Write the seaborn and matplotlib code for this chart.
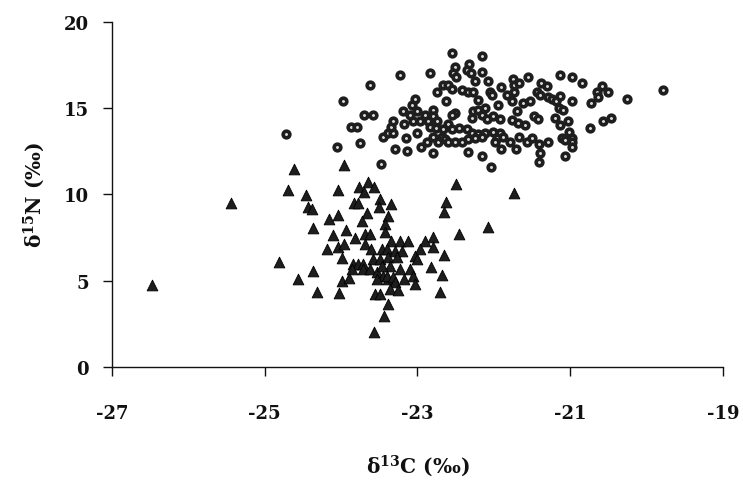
import matplotlib
matplotlib.use("Agg")
import matplotlib.pyplot as plt
import numpy as np
import pandas as pd
import seaborn as sns

# ---- data ----
tri_d13c = [-26.48, -25.44, -24.81, -24.62, -24.70, -24.57, -24.46, -24.43, -24.38, -24.37,
            -24.37, -24.32, -24.16, -24.19, -24.11, -24.04, -24.04, -24.04, -24.03, -23.99,
            -23.99, -23.96, -23.96, -23.94, -23.90, -23.83, -23.78, -23.77, -23.70, -23.65,
            -23.57, -23.49, -23.51, -23.66, -23.73, -23.82, -23.69, -23.62, -23.69, -23.61,
            -23.47, -23.85, -23.78, -23.71, -23.58, -23.49, -23.86, -23.71, -23.62, -23.53,
            -23.45, -23.53, -23.39, -23.56, -23.49, -23.39, -23.44, -23.57, -22.50, -22.62,
            -22.65, -22.08, -22.45, -23.34, -23.39, -23.43, -23.43, -22.80, -23.34, -23.23,
            -23.13, -22.90, -22.80, -23.40, -23.30, -23.20, -22.97, -23.03, -23.39, -23.27,
            -22.65, -23.01, -23.36, -23.23, -23.10, -22.82, -23.40, -23.32, -23.06, -23.17,
            -22.68, -23.30, -23.03, -23.36, -23.26, -22.71, -21.74, -23.47]
tri_d15n = [4.74, 9.48, 6.07, 11.45, 10.23, 5.09, 9.94, 9.25, 9.13, 8.03,
            5.55, 4.34, 8.55, 6.82, 7.63, 10.23, 8.79, 6.94, 4.28, 6.30,
            4.97, 11.68, 7.11, 7.92, 5.14, 9.48, 9.48, 10.40, 10.12, 10.69,
            10.40, 9.71, 9.25, 8.90, 8.44, 7.46, 7.69, 7.69, 7.11, 6.82,
            6.82, 5.95, 5.95, 5.95, 6.24, 6.24, 5.66, 5.66, 5.66, 5.49,
            5.26, 5.09, 5.09, 4.22, 4.22, 3.64, 2.95, 2.02, 10.58, 9.54,
            8.96, 8.09, 7.69, 9.42, 8.73, 8.27, 7.80, 7.51, 7.28, 7.28,
            7.28, 7.28, 6.94, 6.82, 6.71, 6.71, 6.82, 6.42, 6.36, 6.36,
            6.47, 6.24, 5.84, 5.66, 5.66, 5.78, 5.26, 5.20, 5.26, 5.09,
            5.32, 4.91, 4.80, 4.51, 4.45, 4.34, 10.06, 5.84]

circ_d13c = [-24.72, -24.05, -23.98, -23.75, -23.70, -23.62, -23.58, -23.87, -23.79, -23.48,
             -23.45, -23.39, -23.32, -23.35, -23.32, -23.30, -23.23, -23.19, -23.18, -23.15,
             -23.14, -23.10, -23.07, -23.06, -23.03, -23.01, -23.00, -22.97, -22.96, -22.90,
             -22.88, -22.86, -22.84, -22.84, -22.80, -22.79, -22.79, -22.79, -22.76, -22.75,
             -22.75, -22.73, -22.67, -22.60, -22.55, -22.68, -22.64, -22.55, -22.16, -22.51,
             -22.54, -22.50, -22.33, -22.35, -22.30, -22.16, -22.25, -22.08, -22.42, -22.34,
             -22.27, -22.05, -22.03, -21.91, -21.75, -21.73, -21.67, -21.74, -21.55, -21.38,
             -21.31, -22.63, -22.21, -21.95, -21.83, -21.76, -21.62, -21.53, -21.44, -21.40,
             -21.29, -21.70, -22.51, -22.55, -22.27, -22.21, -22.12, -22.29, -22.16, -22.09,
             -22.01, -21.92, -21.76, -21.69, -21.59, -21.48, -21.42, -21.20, -22.67, -22.60,
             -22.55, -22.45, -22.35, -22.29, -22.21, -22.12, -22.01, -21.92, -22.60, -22.51,
             -22.42, -22.34, -22.25, -22.16, -21.96, -21.88, -21.99, -21.79, -21.67, -21.71,
             -21.91, -21.57, -21.50, -21.41, -21.29, -21.40, -21.41, -22.34, -22.16, -22.04,
             -21.14, -20.97, -20.84, -20.59, -20.65, -20.63, -20.51, -20.73, -20.26, -19.79,
             -21.24, -21.18, -21.14, -21.15, -21.10, -20.98, -21.14, -21.03, -21.01, -21.11,
             -21.07, -20.97, -20.98, -20.97, -20.74, -20.57, -20.46, -21.07]
circ_d15n = [13.47, 12.72, 15.38, 12.95, 14.57, 16.36, 14.62, 13.93, 13.93, 11.73,
             13.35, 13.58, 13.58, 13.93, 14.22, 12.60, 16.94, 14.80, 14.10, 13.29,
             12.49, 14.62, 15.20, 14.22, 15.55, 14.80, 13.58, 14.22, 12.77, 14.62,
             13.01, 14.22, 17.05, 13.93, 12.37, 14.91, 14.51, 13.35, 13.87, 15.90,
             14.22, 13.06, 16.36, 16.36, 16.13, 13.35, 13.18, 18.21, 18.03, 17.40,
             17.05, 16.82, 17.57, 17.23, 17.05, 17.11, 16.59, 16.59, 16.07, 15.90,
             15.95, 15.95, 15.78, 16.24, 16.71, 16.36, 16.47, 15.95, 16.82, 16.47,
             16.30, 15.38, 15.49, 15.20, 15.78, 15.38, 15.32, 15.43, 15.90, 15.78,
             15.66, 14.80, 14.74, 14.57, 14.80, 14.91, 15.03, 14.45, 14.62, 14.39,
             14.51, 14.34, 14.28, 14.16, 13.99, 14.51, 14.34, 14.45, 13.76, 14.05,
             13.76, 13.82, 13.76, 13.58, 13.47, 13.58, 13.64, 13.58, 13.06, 13.06,
             13.01, 13.18, 13.29, 13.35, 13.29, 13.35, 13.01, 13.01, 13.35, 12.60,
             12.60, 13.06, 13.29, 12.89, 13.06, 12.37, 11.85, 12.43, 12.25, 11.56,
             16.94, 16.82, 16.47, 16.30, 15.90, 15.66, 15.95, 15.32, 15.55, 16.07,
             15.55, 15.43, 15.72, 15.03, 14.86, 15.38, 13.99, 14.22, 13.64, 13.29,
             13.12, 13.29, 13.01, 12.72, 13.87, 14.22, 14.45, 12.20]

x_ticks = [-27, -25, -23, -21, -19]
y_ticks = [0, 5, 10, 15, 20]
x_label = "δ$^{13}$C (‰)"
y_label = "δ$^{15}$N (‰)"

# ---- style ----
sns.set_theme(style="ticks")
plt.rcParams["font.family"] = ["DejaVu Serif", "Liberation Serif"]
plt.rcParams["font.weight"] = "bold"
plt.rcParams["mathtext.fontset"] = "custom"
plt.rcParams["mathtext.rm"] = "DejaVu Serif:bold"
plt.rcParams["mathtext.it"] = "DejaVu Serif:italic:bold"
plt.rcParams["mathtext.bf"] = "DejaVu Serif:bold"

tri_df = pd.DataFrame({"d13c": tri_d13c, "d15n": tri_d15n})
circ_df = pd.DataFrame({"d13c": circ_d13c, "d15n": circ_d15n})

fig = plt.figure(figsize=(7.43, 4.81), dpi=100)
fig.patch.set_facecolor("white")
ax = fig.add_axes([0.1507, 0.2349, 0.8223, 0.7179])
ax.set_facecolor("white")

sns.scatterplot(data=tri_df, x="d13c", y="d15n", marker="^", s=60,
                color="#1e1e1e", edgecolor="#000000", linewidth=0.6, ax=ax,
                zorder=3, clip_on=False)
sns.scatterplot(data=circ_df, x="d13c", y="d15n", marker="o", s=23,
                color="#d8d8d8", edgecolor="#1e1e1e", linewidth=2.6, ax=ax,
                zorder=4, clip_on=False)

ax.set_xlim(-27, -19)
ax.set_ylim(0, 20)
ax.set_xticks(x_ticks)
ax.set_yticks(y_ticks)
ax.set_xticklabels([str(v) for v in x_ticks])
ax.set_yticklabels([str(v) for v in y_ticks])
sns.despine(ax=ax)
for sp in ["left", "bottom"]:
    ax.spines[sp].set_linewidth(1.0)
    ax.spines[sp].set_color("#111111")

ax.tick_params(axis="x", direction="out", length=6.5, width=1, pad=20,
               labelsize=13, colors="#111111")
ax.tick_params(axis="y", direction="out", length=6.5, width=1, pad=10,
               labelsize=13, colors="#111111")
for lab in ax.get_xticklabels() + ax.get_yticklabels():
    lab.set_fontweight("bold")

ax.set_xlabel(x_label, fontsize=14.5, fontweight="bold", labelpad=22, color="#111111")
ax.set_ylabel(y_label, fontsize=14.5, fontweight="bold", labelpad=12, color="#111111")

fig.savefig("out.png", dpi=100, facecolor="white")
